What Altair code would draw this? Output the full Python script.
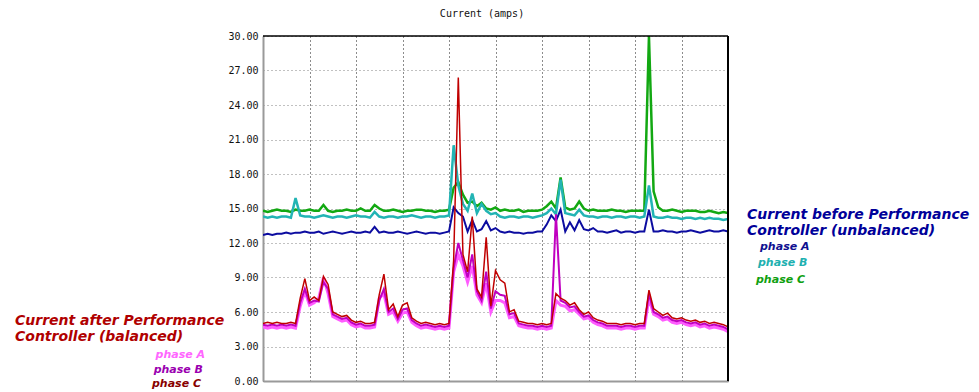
import altair as alt
import pandas as pd

# sample index across the recording (no labels on the time axis)
t = list(range(101))

# Current before Performance Controller (unbalanced)
before_a = [12.7, 12.8, 12.7, 12.8, 12.8, 12.9, 12.8, 12.9, 12.9, 13.0,
            12.9, 12.9, 13.0, 12.8, 12.9, 13.0, 12.9, 12.8, 12.9, 13.0,
            12.9, 12.9, 13.0, 12.9, 13.4, 12.9, 13.0, 12.9, 12.9, 13.0,
            12.9, 12.8, 12.9, 13.0, 12.9, 12.8, 12.9, 12.9, 12.8, 12.9,
            13.0, 15.1, 14.6, 14.3, 13.0, 14.0, 13.0, 13.2, 13.9, 13.1,
            13.3, 13.0, 12.9, 13.0, 12.9, 12.9, 12.8, 12.9, 12.9, 13.0,
            13.0, 13.6, 14.4, 13.9, 14.9, 13.0, 13.8, 13.1, 14.0, 13.2,
            13.1, 13.3, 13.0, 13.0, 12.9, 13.0, 13.1, 12.9, 13.0, 13.0,
            12.9, 13.0, 13.0, 14.9, 13.0, 13.0, 13.1, 13.0, 13.0, 12.9,
            13.0, 13.0, 13.1, 13.0, 12.9, 13.0, 13.1, 13.0, 13.0, 13.1,
            13.0]
before_b = [14.3, 14.2, 14.3, 14.2, 14.3, 14.3, 14.2, 15.9, 14.4, 14.3,
            14.3, 14.2, 14.3, 14.4, 14.3, 14.2, 14.3, 14.3, 14.2, 14.3,
            14.4, 14.3, 14.3, 14.2, 14.7, 14.3, 14.2, 14.3, 14.3, 14.2,
            14.3, 14.3, 14.4, 14.3, 14.2, 14.3, 14.3, 14.2, 14.3, 14.3,
            14.4, 20.5, 17.0, 15.4, 14.8, 16.3, 14.6, 15.4, 14.8, 14.5,
            14.6, 14.3, 14.2, 14.3, 14.3, 14.2, 14.3, 14.3, 14.2, 14.3,
            14.4, 14.6, 15.0, 14.5, 17.5, 14.6, 14.5, 14.4, 14.9, 14.4,
            14.3, 14.3, 14.2, 14.3, 14.3, 14.2, 14.3, 14.3, 14.2, 14.3,
            14.3, 14.2, 14.3, 17.0, 14.3, 14.2, 14.2, 14.3, 14.2, 14.2,
            14.1, 14.2, 14.2, 14.1, 14.2, 14.1, 14.2, 14.1, 14.1, 14.0,
            14.1]
before_c = [14.8, 14.7, 14.8, 14.9, 14.8, 14.8, 14.7, 14.9, 14.8, 14.8,
            14.9, 14.8, 14.8, 15.3, 14.8, 14.7, 14.8, 14.8, 14.9, 14.8,
            14.8, 15.0, 14.8, 14.8, 15.3, 15.0, 14.8, 14.8, 14.9, 14.8,
            14.7, 14.8, 14.8, 14.9, 14.9, 14.8, 14.8, 14.7, 14.8, 14.8,
            14.9, 16.8, 17.3, 16.2, 15.5, 15.6, 15.2, 15.5, 15.0, 14.9,
            15.1, 14.8, 14.9, 14.8, 14.8, 14.9, 14.7, 14.8, 14.8, 14.8,
            14.9, 15.2, 15.6, 15.0, 17.7, 15.1, 14.9, 15.0, 15.6, 15.0,
            14.8, 14.9, 14.8, 14.8, 14.8, 14.9, 14.8, 14.8, 14.7, 14.8,
            14.8, 14.8, 14.8, 30.0, 16.5, 15.1, 14.8, 14.8, 14.9, 14.8,
            14.7, 14.8, 14.8, 14.8, 14.7, 14.7, 14.8, 14.7, 14.6, 14.7,
            14.6]

# Current after Performance Controller (balanced)
after_a = [4.7, 4.6, 4.7, 4.6, 4.7, 4.6, 4.7, 4.6, 6.5, 7.8,
           6.6, 6.8, 7.2, 9.0, 7.6, 5.6, 5.4, 5.2, 5.3, 4.9,
           4.7, 4.8, 4.6, 4.6, 4.7, 7.2, 7.6, 5.8, 6.0, 5.2,
           5.9, 6.0, 5.1, 4.8, 4.6, 4.7, 4.6, 4.5, 4.6, 4.5,
           4.6, 9.5, 11.0, 10.0, 8.6, 10.0, 7.5, 6.8, 8.5, 6.0,
           7.0, 7.0, 6.8, 5.5, 5.6, 4.8, 4.7, 4.6, 4.6, 4.5,
           4.6, 4.5, 4.6, 7.0, 6.6, 6.5, 6.1, 6.2, 5.8, 5.4,
           5.5, 5.1, 4.9, 4.8, 4.6, 4.6, 4.6, 4.5, 4.6, 4.6,
           4.5, 4.6, 4.6, 7.2, 5.8, 5.6, 5.3, 5.4, 5.1, 5.0,
           5.1, 4.9, 4.8, 4.9, 4.7, 4.8, 4.6, 4.7, 4.6, 4.5,
           4.3]
after_b = [4.9, 4.8, 4.9, 4.8, 4.9, 4.8, 4.9, 4.8, 6.8, 8.0,
           6.8, 7.0, 6.9, 8.6, 8.0, 5.8, 5.6, 5.4, 5.5, 5.1,
           4.9, 5.0, 4.8, 4.8, 4.9, 7.0, 8.0, 6.0, 6.3, 5.4,
           6.2, 6.3, 5.3, 5.0, 4.8, 4.9, 4.8, 4.7, 4.8, 4.7,
           4.8, 9.8, 12.0, 10.5, 9.0, 11.0, 7.8, 7.0, 9.5, 6.3,
           7.8, 7.5, 7.4, 5.8, 5.9, 5.0, 4.9, 4.8, 4.8, 4.7,
           4.8, 4.7, 4.8, 14.5, 7.0, 6.8, 6.4, 6.5, 6.0, 5.6,
           5.7, 5.3, 5.1, 5.0, 4.8, 4.8, 4.8, 4.7, 4.8, 4.8,
           4.7, 4.8, 4.8, 7.6, 6.0, 5.8, 5.5, 5.6, 5.3, 5.2,
           5.3, 5.1, 5.0, 5.1, 4.9, 5.0, 4.8, 4.9, 4.8, 4.7,
           4.5]
after_c = [5.0, 5.1, 5.0, 5.1, 5.0, 5.0, 5.1, 5.0, 7.2, 8.9,
           7.0, 7.3, 7.0, 9.1, 8.4, 6.0, 5.8, 5.6, 5.7, 5.3,
           5.1, 5.2, 5.0, 5.0, 5.1, 7.5, 9.3, 6.2, 6.7, 5.6,
           6.6, 6.8, 5.5, 5.2, 5.0, 5.1, 5.0, 4.9, 5.0, 4.9,
           5.0, 10.5, 26.4, 11.0, 9.5, 14.3, 8.0, 7.3, 12.5, 6.5,
           9.6, 8.8, 8.5, 6.0, 6.2, 5.2, 5.1, 5.0, 5.0, 4.9,
           5.0, 4.9, 5.0, 7.6, 7.2, 7.0, 6.6, 6.8, 6.2, 5.8,
           6.0, 5.5, 5.3, 5.2, 5.0, 5.0, 5.0, 4.9, 5.0, 5.0,
           4.9, 5.0, 5.0, 7.9, 6.3, 6.0, 5.7, 5.9, 5.5, 5.4,
           5.5, 5.3, 5.2, 5.3, 5.1, 5.2, 5.0, 5.1, 5.0, 4.9,
           4.7]

y_ticks = [0, 3, 6, 9, 12, 15, 18, 21, 24, 27, 30]
x_grid = [0, 10, 20, 30, 40, 50, 60, 70, 80, 90, 100]

title_text = "Current (amps)"
left_title = ["Current after Performance", "Controller (balanced)"]
right_title = ["Current before Performance", "Controller (unbalanced)"]
phase_names = ["phase A", "phase B", "phase C"]

W, H = 465, 345

x_axis = alt.Axis(values=x_grid, labels=False, ticks=False, title=None,
                  domainColor="#9a9a9a", domainWidth=2,
                  grid=True, gridColor="#000000", gridDash=[1, 3], gridOpacity=0.9, gridWidth=1)
y_axis = alt.Axis(values=y_ticks, format=".2f", title=None, ticks=False, labelPadding=5,
                  labelFont="DejaVu Sans Mono", labelFontSize=10, labelColor="#111111",
                  domainColor="#9a9a9a", domainWidth=2,
                  grid=True, gridColor="#777777", gridDash=[1, 3], gridOpacity=0.9, gridWidth=1)

xs = alt.Scale(domain=[0, 100], nice=False)
ys = alt.Scale(domain=[0, 30], nice=False)


def series(vals, color, width):
    df = pd.DataFrame({"t": t, "v": vals})
    return alt.Chart(df).mark_line(color=color, strokeWidth=width, clip=True).encode(
        x=alt.X("t:Q", scale=xs, axis=x_axis),
        y=alt.Y("v:Q", scale=ys, axis=y_axis),
    )


one = pd.DataFrame({"k": [0]})


def label(text, px, py, color, size, align="left", font="DejaVu Sans", weight="bold", style="italic"):
    return alt.Chart(one).mark_text(
        text=text, align=align, baseline="middle", font=font, fontSize=size,
        fontWeight=weight, fontStyle=style, color=color,
    ).encode(x=alt.value(px - 263), y=alt.value(py - 36))


lines = [
    series(before_c, "#12a812", 2.5),
    series(before_b, "#22b4b4", 2.5),
    series(before_a, "#0c0ca0", 2),
    series(after_a, "#ff5cff", 3),
    series(after_b, "#c000c0", 2),
    series(after_c, "#c00000", 1.5),
]

borders = [
    alt.Chart(one).mark_rule(color="#000000", strokeWidth=1.5).encode(
        x=alt.value(0), x2=alt.value(W), y=alt.value(0)),
    alt.Chart(one).mark_rule(color="#000000", strokeWidth=2).encode(
        x=alt.value(W), y=alt.value(0), y2=alt.value(H)),
]

texts = [
    label(title_text, 482, 14, "#111111", 10, align="center", font="DejaVu Sans Mono",
          weight="normal", style="normal"),
    label(left_title[0], 15, 321, "#b00000", 14),
    label(left_title[1], 15, 337, "#b00000", 14),
    label(phase_names[0], 205, 355, "#ff66ff", 11, align="right"),
    label(phase_names[1], 203, 370, "#9a00b0", 11, align="right"),
    label(phase_names[2], 201, 384, "#880000", 11, align="right"),
    label(right_title[0], 747, 215, "#000099", 14),
    label(right_title[1], 747, 231, "#000099", 14),
    label(phase_names[0], 760, 247, "#101090", 11),
    label(phase_names[1], 758, 263, "#20b0b0", 11),
    label(phase_names[2], 756, 280, "#10a010", 11),
]

chart = alt.layer(*lines, *borders, *texts).properties(
    width=W, height=H,
    autosize=alt.AutoSizeParams(type="none"),
    padding={"left": 255, "top": 28, "right": 243, "bottom": 11},
).configure_view(stroke=None)

chart.save("out.html", embed_options={"renderer": "svg", "actions": False})
